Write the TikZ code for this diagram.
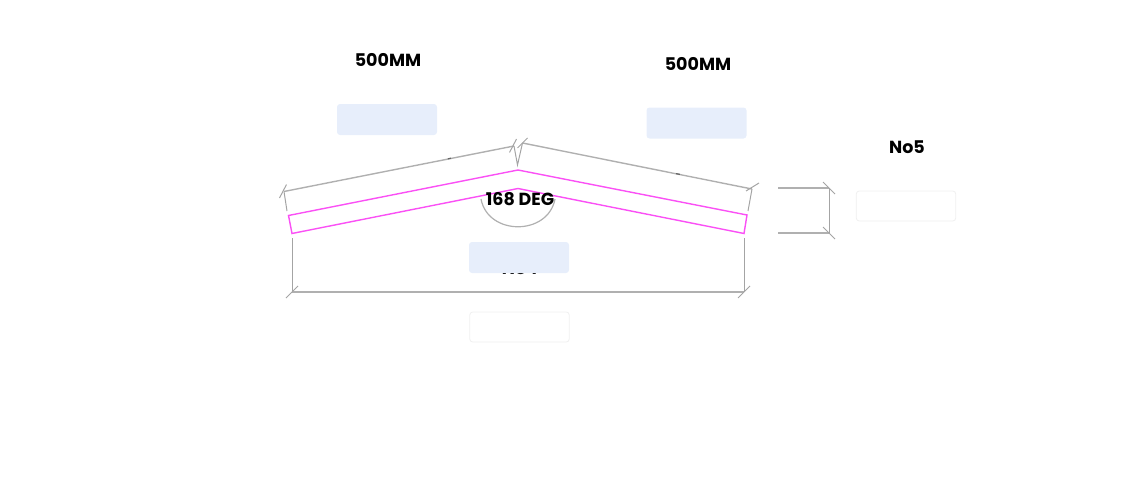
\documentclass[tikz,border=0pt]{standalone}
\usetikzlibrary{calc}
\usepackage{fontspec}
\setmainfont{Poppins}
\definecolor{dimgrey}{HTML}{B0B0B0}
\definecolor{tickgrey}{HTML}{A4A4A4}
\definecolor{beam}{HTML}{FA50F5}
\definecolor{boxblue}{HTML}{E7EEFB}
\definecolor{boxedge}{HTML}{F0F0F0}
\tikzset{
  dimline/.style={draw=dimgrey,line width=1.4pt},
  tickline/.style={draw=tickgrey,line width=1pt},
  beamline/.style={draw=beam,line width=1.4pt,line join=miter},
  lbl/.style={font=\fontsize{17.5}{20}\selectfont\bfseries,text=black,inner sep=0pt},
  bluebox/.style={fill=boxblue,rounded corners=3pt,minimum width=100pt,minimum height=31pt,inner sep=0pt},
  whitebox/.style={fill=white,draw=boxedge,line width=0.8pt,rounded corners=3pt,minimum width=99.5pt,minimum height=30pt,inner sep=0pt}
}
\begin{document}
\begin{tikzpicture}[x=1pt,y=-1pt]
\useasboundingbox (0,0) rectangle (1138,479);
% beam
\coordinate (bl) at (288.5,215.5); \coordinate (bt) at (518,170); \coordinate (br) at (747,215);
\coordinate (brb) at (744,233.5); \coordinate (bb) at (518,188.5); \coordinate (blb) at (292,233.5);
% top dimensions
\coordinate (a1) at (284,191.5); \coordinate (a2) at (514,146); \coordinate (a3) at (522.5,143); \coordinate (a4) at (752,189);
\coordinate (mid) at (517.5,165);
\draw[dimline] (a1)--(a2);
\draw[dimline] (a3)--(a4);
\draw[tickline] (a1)--(287,211);
\draw[tickline] (a2)--(mid)--(a3);
\draw[tickline] (a4)--(748,211);
\foreach \c in {a1,a2}{\draw[tickline] ($(\c)+(-4.5,6.5)$)--($(\c)+(2.5,-7)$);}
\draw[tickline] ($(a3)+(-5,5)$)--($(a3)+(5,-5)$);
\draw[tickline] ($(a4)+(-6,2)$)--($(a4)+(7,-6)$);
% tiny mid marks
\draw[black!60,line width=1.2pt] (448,158.8)--(451,158.2);
\draw[black!60,line width=1.2pt] (676,173.6)--(680,174.4);
\draw[black!60,line width=1pt] (829,211)--(829,212.5);
% beam outline
\draw[beamline] (bl)--(bt)--(br)--(brb)--(bb)--(blb)--cycle;
% angle arc
\coordinate (ar1) at (481,199); \coordinate (ar2) at (555,199);
\draw[dimgrey,line width=1.2pt] (ar1) .. controls (488,236) and (548,236) .. (ar2);
% bottom dimension
\coordinate (c1) at (292,292); \coordinate (c2) at (744,292);
\coordinate (c1t) at (292,238); \coordinate (c2t) at (744,238);
\draw[tickline] (c1t)--(c1);
\draw[tickline] (c2t)--(c2);
\draw[dimline] (c1)--(c2);
\draw[tickline] ($(c1)+(-6,6)$)--($(c1)+(6,-6)$);
\draw[tickline] ($(c2)+(-6,6)$)--($(c2)+(6,-6)$);
% right dimension
\coordinate (d1) at (829,188); \coordinate (d2) at (829,233);
\draw[dimline] (778,188)--(d1);
\draw[dimline] (778,233)--(d2);
\draw[tickline] (d1)--(d2);
\draw[tickline] ($(d1)+(-6,-6)$)--($(d1)+(6,6)$);
\draw[tickline] ($(d2)+(-6,-6)$)--($(d2)+(6,6)$);
% labels and boxes
\node[lbl] (t1) at (388,60) {500MM};
\node[lbl] (t2) at (698,64) {500MM};
\node[lbl] (t3) at (520,199) {168 DEG};
\node[lbl] (t4) at (520,268.5) {No4};
\node[lbl] (t5) at (907,147) {No5};
\node[bluebox] (b1) at (387,119.5) {};
\node[bluebox] (b2) at (696.5,123) {};
\node[bluebox] (b3) at (519,257.5) {};
\node[whitebox] (w1) at (519.5,327) {};
\node[whitebox] (w2) at (906,206) {};
\end{tikzpicture}
\end{document}
